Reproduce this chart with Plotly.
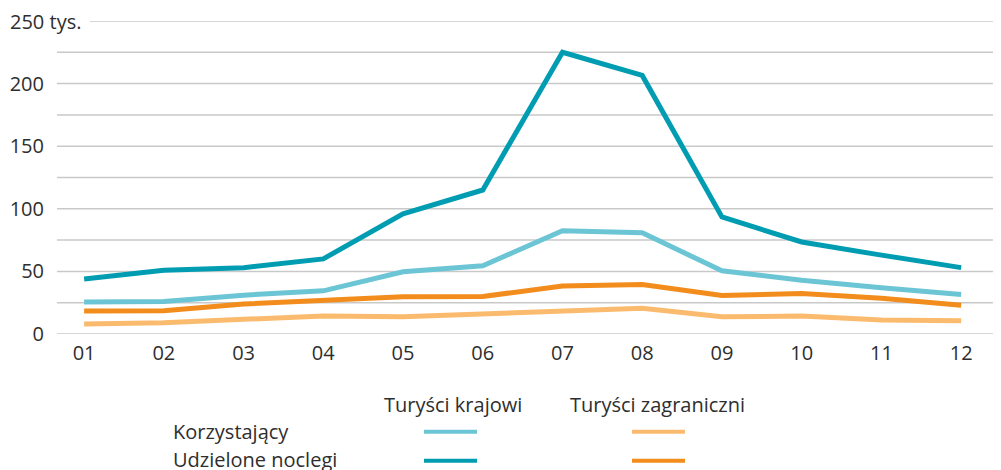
import plotly.graph_objects as go

months = ["01", "02", "03", "04", "05", "06", "07", "08", "09", "10", "11", "12"]
noclegi_krajowi = [44, 51, 53, 60, 96, 115, 225, 206.5, 93.5, 73.5, 63, 53]
korzystajacy_krajowi = [25.5, 26, 31, 34.5, 49.7, 54.5, 82.5, 80.8, 50.5, 43, 37, 31.6]
noclegi_zagraniczni = [18.3, 18.5, 24, 26.5, 29.7, 30, 38.3, 39.6, 30.8, 32.4, 28.5, 23]
korzystajacy_zagraniczni = [8, 9, 11.7, 14.3, 13.8, 16, 18.3, 20.5, 13.8, 14.3, 11.2, 10.6]
y_ticks = [0, 50, 100, 150, 200]
grid_vals = [0, 25, 50, 75, 100, 125, 150, 175, 200, 225]
col_headers = ["Turyści krajowi", "Turyści zagraniczni"]
row_labels = ["Korzystający", "Udzielone noclegi"]

C_LT = "#6cc5d5"
C_DT = "#009db2"
C_LO = "#fbbb6e"
C_DO = "#f28c1c"
FONT = "Open Sans"
FS = 20
TXT = "#2e2e2e"

OFF = 8  # page body margin
W, H = 1001 - OFF, 470 - OFF
L, R, T, B = 57 - OFF, 0, 20.5 - OFF, 136
pw = W - L - R
ph = H - T - B

def px_x(x):
    return (x - OFF - L) / pw

def px_y(y):
    return (H - B - (y - OFF)) / ph

fig = go.Figure()
for vals, col in [(korzystajacy_zagraniczni, C_LO), (noclegi_zagraniczni, C_DO),
                  (korzystajacy_krajowi, C_LT), (noclegi_krajowi, C_DT)]:
    fig.add_trace(go.Scatter(x=months, y=vals, mode="lines",
                             line=dict(color=col, width=5), showlegend=False,
                             cliponaxis=False))

shapes = []
for g in grid_vals:
    shapes.append(dict(type="line", xref="paper", yref="y", x0=px_x(57), x1=1, y0=g, y1=g,
                       line=dict(color="#c9c9c9", width=1.5), layer="below"))
shapes.append(dict(type="line", xref="paper", yref="y", x0=px_x(90), x1=1, y0=250, y1=250,
                   line=dict(color="#c9c9c9", width=1.5), layer="below"))

annotations = [dict(text="250 tys.", xref="paper", yref="y", x=px_x(8), y=250,
                    xanchor="left", yanchor="middle", showarrow=False,
                    font=dict(family=FONT, size=FS, color=TXT))]

# custom legend table
hdr_x = [453, 657]
for t, xc in zip(col_headers, hdr_x):
    annotations.append(dict(text=t, xref="paper", yref="paper", x=px_x(xc), y=px_y(405),
                            xanchor="center", yanchor="middle", showarrow=False,
                            font=dict(family=FONT, size=FS, color=TXT)))
row_y = [432, 460]
for t, yc in zip(row_labels, row_y):
    annotations.append(dict(text=t, xref="paper", yref="paper", x=px_x(171), y=px_y(yc),
                            xanchor="left", yanchor="middle", showarrow=False,
                            font=dict(family=FONT, size=FS, color=TXT)))
samples = [((424, 477), 432, C_LT), ((632, 685), 432, C_LO),
           ((424, 477), 461, C_DT), ((632, 685), 461, C_DO)]
for (xa, xb), yc, col in samples:
    shapes.append(dict(type="line", xref="paper", yref="paper", x0=px_x(xa), x1=px_x(xb),
                       y0=px_y(yc), y1=px_y(yc), line=dict(color=col, width=4)))

fig.update_layout(
    width=W, height=H,
    margin=dict(l=L, r=R, t=T, b=B),
    paper_bgcolor="white", plot_bgcolor="white",
    font=dict(family=FONT, size=FS, color=TXT),
    xaxis=dict(type="category", range=[-0.34, 11.5], showgrid=False, zeroline=False,
               showline=False, ticks="", ticklabelstandoff=5,
               tickfont=dict(size=FS, color=TXT)),
    yaxis=dict(range=[0, 250], showgrid=False, zeroline=False, showline=False,
               tickvals=y_ticks, ticktext=[str(v) for v in y_ticks], ticks="",
               ticklabelstandoff=12, tickfont=dict(size=FS, color=TXT)),
    shapes=shapes, annotations=annotations,
)

fig.write_html("out.html")
